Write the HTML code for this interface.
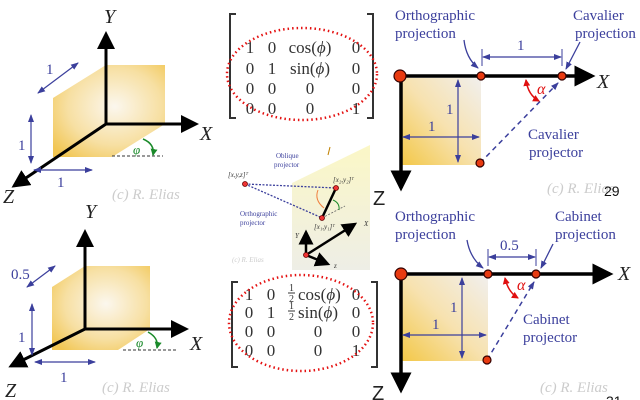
<!DOCTYPE html>
<html><head><meta charset="utf-8"><style>
html,body{margin:0;padding:0;background:#fff;}
svg{display:block;font-family:"Liberation Serif",serif;}
.b{fill:#3b3f9c;}
</style></head><body>
<svg width="640" height="400" viewBox="0 0 640 400" xmlns="http://www.w3.org/2000/svg">
<defs>
<radialGradient id="cube" cx="0.55" cy="0.45" r="0.7">
<stop offset="0" stop-color="#fbf6ec"/><stop offset="0.6" stop-color="#f6dc98"/><stop offset="1" stop-color="#f0c040"/>
</radialGradient>
<linearGradient id="sq" x1="1" y1="0" x2="0" y2="1">
<stop offset="0" stop-color="#f1efed"/><stop offset="0.5" stop-color="#f7e2b0"/><stop offset="1" stop-color="#f3c848"/>
</linearGradient>
<linearGradient id="pl" x1="0" y1="0" x2="0" y2="1">
<stop offset="0" stop-color="#fbf7c6"/><stop offset="1" stop-color="#eeeee6"/>
</linearGradient>
<marker id="ak" markerWidth="6" markerHeight="6" refX="5" refY="3" orient="auto" markerUnits="strokeWidth"><path d="M0,0 L6,3 L0,6 z" fill="#000"/></marker>
<marker id="ab" markerWidth="8" markerHeight="8" refX="7" refY="4" orient="auto" markerUnits="userSpaceOnUse"><path d="M0,1 L8,4 L0,7 z" fill="#3b3f9c"/></marker>
<marker id="abs" markerWidth="8" markerHeight="8" refX="1" refY="4" orient="auto" markerUnits="userSpaceOnUse"><path d="M8,1 L0,4 L8,7 z" fill="#3b3f9c"/></marker>
<marker id="ar" markerWidth="7" markerHeight="7" refX="6" refY="3.5" orient="auto" markerUnits="userSpaceOnUse"><path d="M0,0 L7,3.5 L0,7 z" fill="#e01010"/></marker>
<marker id="ars" markerWidth="7" markerHeight="7" refX="1" refY="3.5" orient="auto" markerUnits="userSpaceOnUse"><path d="M7,0 L0,3.5 L7,7 z" fill="#e01010"/></marker>
<marker id="ag" markerWidth="7" markerHeight="7" refX="6" refY="3.5" orient="auto" markerUnits="userSpaceOnUse"><path d="M0,0 L7,3.5 L0,7 z" fill="#1a8a2a"/></marker>
</defs>

<!-- TOP LEFT -->
<polygon points="53,98 106,65 165,65 165,124 112,157 53,157" fill="url(#cube)" opacity="0.9"/>
<line x1="106" y1="124" x2="106" y2="34" stroke="#000" stroke-width="3" marker-end="url(#ak)"/>
<line x1="106" y1="124" x2="196" y2="124" stroke="#000" stroke-width="3" marker-end="url(#ak)"/>
<line x1="106" y1="124" x2="14" y2="186" stroke="#000" stroke-width="3" marker-end="url(#ak)"/>
<text x="104" y="23" font-size="20" font-style="italic" fill="#222">Y</text>
<text x="200" y="140" font-size="20" font-style="italic" fill="#222">X</text>
<text x="3" y="203" font-size="20" font-style="italic" fill="#222">Z</text>
<line x1="38" y1="93" x2="78" y2="63" stroke="#3b3f9c" stroke-width="1.2" marker-end="url(#ab)" marker-start="url(#abs)"/>
<text x="46" y="74" font-size="15" class="b">1</text>
<line x1="31" y1="115" x2="31" y2="163" stroke="#3b3f9c" stroke-width="1.2" marker-end="url(#ab)" marker-start="url(#abs)"/>
<text x="18" y="150" font-size="15" class="b">1</text>
<line x1="34" y1="170" x2="92" y2="170" stroke="#3b3f9c" stroke-width="1.2" marker-end="url(#ab)" marker-start="url(#abs)"/>
<text x="57" y="187" font-size="15" class="b">1</text>
<line x1="112" y1="156" x2="163" y2="156" stroke="#333" stroke-dasharray="3,2"/>
<path d="M143,139 Q155,144 153,155" fill="none" stroke="#1a8a2a" stroke-width="1.5" marker-end="url(#ag)"/>
<text x="133" y="154" font-size="13" font-style="italic" fill="#1a8a2a">φ</text>
<text x="112" y="199" font-size="15" font-style="italic" fill="#ccc">(c) R. Elias</text>

<!-- BOTTOM LEFT -->
<polygon points="52,287 85,266 150,266 150,329 118,350 52,350" fill="url(#cube)" opacity="0.9"/>
<line x1="85" y1="329" x2="85" y2="232" stroke="#000" stroke-width="3" marker-end="url(#ak)"/>
<line x1="85" y1="329" x2="186" y2="329" stroke="#000" stroke-width="3" marker-end="url(#ak)"/>
<line x1="85" y1="329" x2="11" y2="366" stroke="#000" stroke-width="3" marker-end="url(#ak)"/>
<text x="85" y="218" font-size="20" font-style="italic" fill="#222">Y</text>
<text x="190" y="350" font-size="20" font-style="italic" fill="#222">X</text>
<text x="5" y="397" font-size="20" font-style="italic" fill="#222">Z</text>
<line x1="27" y1="287" x2="55" y2="266" stroke="#3b3f9c" stroke-width="1.2" marker-end="url(#ab)" marker-start="url(#abs)"/>
<text x="11" y="279" font-size="15" class="b">0.5</text>
<line x1="32" y1="304" x2="32" y2="355" stroke="#3b3f9c" stroke-width="1.2" marker-end="url(#ab)" marker-start="url(#abs)"/>
<text x="18" y="342" font-size="15" class="b">1</text>
<line x1="35" y1="362" x2="95" y2="362" stroke="#3b3f9c" stroke-width="1.2" marker-end="url(#ab)" marker-start="url(#abs)"/>
<text x="60" y="382" font-size="15" class="b">1</text>
<line x1="123" y1="350" x2="177" y2="350" stroke="#333" stroke-dasharray="3,2"/>
<path d="M148,332 Q159,338 157,348" fill="none" stroke="#1a8a2a" stroke-width="1.5" marker-end="url(#ag)"/>
<text x="136" y="347" font-size="13" font-style="italic" fill="#1a8a2a">φ</text>
<text x="102" y="392" font-size="15" font-style="italic" fill="#ccc">(c) R. Elias</text>

<!-- MATRIX 1 -->
<g fill="#333" font-size="17">
<path d="M236,14 H230 V118 H236" fill="none" stroke="#333" stroke-width="2"/>
<path d="M367,14 H373 V118 H367" fill="none" stroke="#333" stroke-width="2"/>
<g text-anchor="middle">
<text x="250" y="53">1</text><text x="272" y="53">0</text><text x="310" y="53">cos(<tspan font-style="italic">ϕ</tspan>)</text><text x="356" y="53">0</text>
<text x="250" y="74">0</text><text x="272" y="74">1</text><text x="310" y="74">sin(<tspan font-style="italic">ϕ</tspan>)</text><text x="356" y="74">0</text>
<text x="250" y="94">0</text><text x="272" y="94">0</text><text x="310" y="94">0</text><text x="356" y="94">0</text>
<text x="250" y="114">0</text><text x="272" y="114">0</text><text x="310" y="114">0</text><text x="356" y="114">1</text>
</g></g>
<ellipse cx="302" cy="74" rx="75" ry="46" fill="none" stroke="#e41010" stroke-width="2.5" stroke-dasharray="1.5,3"/>

<!-- MIDDLE IMAGE -->
<polygon points="292,183 370,145 370,270 292,270" fill="url(#pl)"/>
<line x1="245" y1="184" x2="336" y2="188" stroke="#3b3f9c" stroke-width="1.3" stroke-dasharray="2,1.5"/>
<line x1="245" y1="184" x2="320" y2="217" stroke="#3b3f9c" stroke-width="1.3" stroke-dasharray="2,1.5"/>
<line x1="322" y1="218" x2="336" y2="188" stroke="#000" stroke-width="2.5"/>
<line x1="322" y1="218" x2="345" y2="206" stroke="#666" stroke-width="0.8" stroke-dasharray="2,1.5"/>
<path d="M318,190 Q314,200 324,208" fill="none" stroke="#f08040" stroke-width="1"/>
<path d="M333,200 Q340,203 339,210" fill="none" stroke="#1a8a2a" stroke-width="1"/>
<path d="M330,147 l-2,8" stroke="#c08000" stroke-width="1"/>
<circle cx="245" cy="184" r="2.5" fill="#e33" stroke="#600" stroke-width="0.8"/>
<circle cx="336" cy="188" r="2.5" fill="#e33" stroke="#600" stroke-width="0.8"/>
<circle cx="322" cy="218" r="2.5" fill="#e33" stroke="#600" stroke-width="0.8"/>
<line x1="306" y1="255" x2="306" y2="232" stroke="#000" stroke-width="2.5" marker-end="url(#ak)"/>
<line x1="306" y1="255" x2="355" y2="224" stroke="#000" stroke-width="2.5" marker-end="url(#ak)"/>
<line x1="306" y1="255" x2="328" y2="264" stroke="#000" stroke-width="2.5" marker-end="url(#ak)"/>
<circle cx="306" cy="255" r="2.5" fill="#e33" stroke="#600" stroke-width="0.8"/>
<g font-size="7" fill="#333" font-style="italic">
<text x="228" y="177">[x,y,z]ᵀ</text><text x="333" y="182">[x₂,y₂]ᵀ</text><text x="314" y="229">[x₁,y₁]ᵀ</text>
<text x="295" y="238">Y</text><text x="364" y="226">X</text><text x="334" y="268">z</text>
</g>
<g font-size="7" class="b"><text x="276" y="158">Oblique</text><text x="274" y="167">projector</text>
<text x="240" y="216">Orthographic</text><text x="240" y="225">projector</text></g>
<text x="232" y="262" font-size="7" font-style="italic" fill="#ccc">(c) R. Elias</text>
<text x="373" y="205" font-family="Liberation Sans,sans-serif" font-size="20" fill="#222">Z</text>
<text x="372" y="400" font-family="Liberation Sans,sans-serif" font-size="20" fill="#222">Z</text>

<!-- MATRIX 2 -->
<g fill="#333" font-size="17">
<path d="M238,282 H232 V367 H238" fill="none" stroke="#333" stroke-width="2"/>
<path d="M371,282 H377 V367 H371" fill="none" stroke="#333" stroke-width="2"/>
<g text-anchor="middle">
<text x="249" y="300">1</text><text x="271" y="300">0</text><text x="356" y="300">0</text>
<text x="249" y="318">0</text><text x="271" y="318">1</text><text x="356" y="318">0</text>
<text x="249" y="337">0</text><text x="271" y="337">0</text><text x="318" y="337">0</text><text x="356" y="337">0</text>
<text x="249" y="356">0</text><text x="271" y="356">0</text><text x="318" y="356">0</text><text x="356" y="356">1</text>
</g>
<text x="289" y="291" font-size="10">1</text><line x1="288" y1="293" x2="295" y2="293" stroke="#333"/><text x="289" y="302" font-size="10">2</text>
<text x="298" y="300">cos(<tspan font-style="italic">ϕ</tspan>)</text>
<text x="289" y="309" font-size="10">1</text><line x1="288" y1="311" x2="295" y2="311" stroke="#333"/><text x="289" y="320" font-size="10">2</text>
<text x="298" y="318">sin(<tspan font-style="italic">ϕ</tspan>)</text>
</g>
<ellipse cx="301" cy="323" rx="72" ry="48" fill="none" stroke="#e41010" stroke-width="2.5" stroke-dasharray="1.5,3"/>

<!-- TOP RIGHT -->
<rect x="402" y="78" width="79" height="87" fill="url(#sq)"/>
<line x1="400" y1="76" x2="592" y2="76" stroke="#000" stroke-width="3.5" marker-end="url(#ak)"/>
<line x1="401" y1="76" x2="401" y2="188" stroke="#000" stroke-width="3.5" marker-end="url(#ak)"/>
<text x="597" y="88" font-size="20" font-style="italic" fill="#222">X</text>
<line x1="480" y1="163" x2="558" y2="83" stroke="#3b3f9c" stroke-width="1.5" stroke-dasharray="5,4" marker-end="url(#ab)"/>
<line x1="483" y1="57" x2="561" y2="57" stroke="#3b3f9c" stroke-width="1.2" marker-end="url(#ab)" marker-start="url(#abs)"/>
<line x1="482" y1="49" x2="482" y2="66" stroke="#3b3f9c"/><line x1="562" y1="49" x2="562" y2="66" stroke="#3b3f9c"/>
<text x="517" y="50" font-size="15" class="b">1</text>
<line x1="458" y1="80" x2="458" y2="162" stroke="#3b3f9c" stroke-width="1.2" marker-end="url(#ab)" marker-start="url(#abs)"/>
<text x="446" y="114" font-size="15" class="b">1</text>
<line x1="403" y1="137" x2="479" y2="137" stroke="#3b3f9c" stroke-width="1.2" marker-end="url(#ab)" marker-start="url(#abs)"/>
<text x="428" y="131" font-size="15" class="b">1</text>
<path d="M526,80 Q528,95 539,101" fill="none" stroke="#e01010" stroke-width="1.5" marker-end="url(#ar)" marker-start="url(#ars)"/>
<text x="537" y="94" font-size="16" font-style="italic" fill="#e01010">α</text>
<path d="M464,40 Q466,58 478,68" fill="none" stroke="#3b3f9c" stroke-width="1.3" marker-end="url(#ab)"/>
<line x1="580" y1="42" x2="566" y2="69" stroke="#3b3f9c" stroke-width="1.3" marker-end="url(#ab)"/>
<circle cx="400" cy="76" r="6" fill="#e83a10" stroke="#300" stroke-width="1.2"/>
<circle cx="481" cy="76" r="4" fill="#e83a10" stroke="#300" stroke-width="1.2"/>
<circle cx="562" cy="76" r="4" fill="#e83a10" stroke="#300" stroke-width="1.2"/>
<circle cx="480" cy="163" r="4" fill="#e83a10" stroke="#300" stroke-width="1.2"/>
<g font-size="15" class="b">
<text x="395" y="20">Orthographic</text><text x="395" y="38">projection</text>
<text x="573" y="20">Cavalier</text><text x="575" y="38">projection</text>
<text x="528" y="139">Cavalier</text><text x="529" y="157">projector</text>
</g>
<text x="547" y="193" font-size="15" font-style="italic" fill="#ccc">(c) R. Elias</text>
<text x="604" y="196" font-family="Liberation Sans,sans-serif" font-size="14" fill="#111">29</text>

<!-- BOTTOM RIGHT -->
<rect x="402" y="276" width="86" height="85" fill="url(#sq)"/>
<line x1="400" y1="274" x2="610" y2="274" stroke="#000" stroke-width="3.5" marker-end="url(#ak)"/>
<line x1="401" y1="274" x2="401" y2="390" stroke="#000" stroke-width="3.5" marker-end="url(#ak)"/>
<text x="618" y="280" font-size="20" font-style="italic" fill="#222">X</text>
<line x1="487" y1="360" x2="534" y2="282" stroke="#3b3f9c" stroke-width="1.5" stroke-dasharray="5,4" marker-end="url(#ab)"/>
<line x1="489" y1="257" x2="535" y2="257" stroke="#3b3f9c" stroke-width="1.2" marker-end="url(#ab)" marker-start="url(#abs)"/>
<line x1="488" y1="249" x2="488" y2="266" stroke="#3b3f9c"/><line x1="536" y1="249" x2="536" y2="266" stroke="#3b3f9c"/>
<text x="500" y="250" font-size="15" class="b">0.5</text>
<line x1="462" y1="278" x2="462" y2="358" stroke="#3b3f9c" stroke-width="1.2" marker-end="url(#ab)" marker-start="url(#abs)"/>
<text x="450" y="312" font-size="15" class="b">1</text>
<line x1="403" y1="335" x2="486" y2="335" stroke="#3b3f9c" stroke-width="1.2" marker-end="url(#ab)" marker-start="url(#abs)"/>
<text x="432" y="329" font-size="15" class="b">1</text>
<path d="M505,278 Q508,292 518,298" fill="none" stroke="#e01010" stroke-width="1.5" marker-end="url(#ar)" marker-start="url(#ars)"/>
<text x="517" y="290" font-size="16" font-style="italic" fill="#e01010">α</text>
<path d="M467,240 Q470,258 483,268" fill="none" stroke="#3b3f9c" stroke-width="1.3" marker-end="url(#ab)"/>
<line x1="553" y1="244" x2="541" y2="268" stroke="#3b3f9c" stroke-width="1.3" marker-end="url(#ab)"/>
<circle cx="401" cy="274" r="6" fill="#e83a10" stroke="#300" stroke-width="1.2"/>
<circle cx="488" cy="274" r="4" fill="#e83a10" stroke="#300" stroke-width="1.2"/>
<circle cx="536" cy="274" r="4" fill="#e83a10" stroke="#300" stroke-width="1.2"/>
<circle cx="487" cy="360" r="4" fill="#e83a10" stroke="#300" stroke-width="1.2"/>
<g font-size="15" class="b">
<text x="395" y="221">Orthographic</text><text x="395" y="239">projection</text>
<text x="555" y="221">Cabinet</text><text x="555" y="239">projection</text>
<text x="523" y="324">Cabinet</text><text x="523" y="342">projector</text>
</g>
<text x="540" y="392" font-size="15" font-style="italic" fill="#ccc">(c) R. Elias</text>
<text x="606" y="406" font-family="Liberation Sans,sans-serif" font-size="14" fill="#111">31</text>
</svg>
</body></html>
